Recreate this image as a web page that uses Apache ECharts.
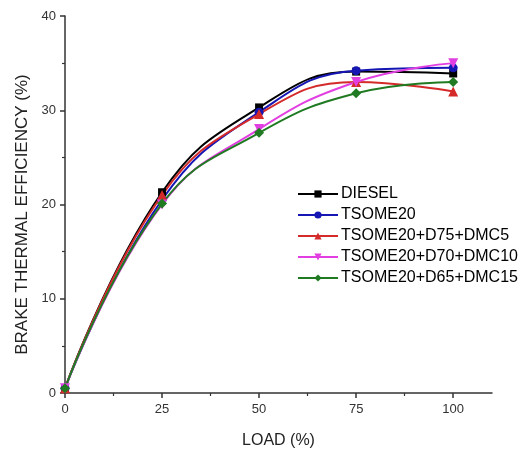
<!DOCTYPE html>
<html>
<head>
<meta charset="utf-8">
<script src="https://cdn.jsdelivr.net/npm/echarts@6/dist/echarts.min.js"></script>
<style>
  html, body { margin: 0; padding: 0; background: #fff; }
  #chart { width: 519px; height: 449px; }
</style>
</head>
<body>
<div id="chart"></div>
<script>
// Engine load (%) on the x axis
const loads = [0, 25, 50, 75, 100];

// Brake thermal efficiency (%) per fuel blend
const diesel      = [0.5, 21.3, 30.3, 34.1, 33.9];
const tsome20     = [0.5, 20.5, 29.8, 34.2, 34.5];
const tsomeDmc5   = [0.5, 21.0, 29.6, 33.0, 32.0];
const tsomeDmc10  = [0.5, 20.0, 28.0, 33.0, 35.0];
const tsomeDmc15  = [0.5, 20.1, 27.6, 31.8, 33.0];

const xMajorTicks = [0, 25, 50, 75, 100];
const xMinorTicks = [12.5, 37.5, 62.5, 87.5];

const seriesDefs = [
  { name: 'DIESEL',             data: diesel,     color: '#000000', symbol: 'rect',     size: 8,  rotate: 0 },
  { name: 'TSOME20',            data: tsome20,    color: '#1616b4', symbol: 'circle',   size: 9,  rotate: 0 },
  { name: 'TSOME20+D75+DMC5',   data: tsomeDmc5,  color: '#d42a2a', symbol: 'triangle', size: 10, rotate: 0 },
  { name: 'TSOME20+D70+DMC10',  data: tsomeDmc10, color: '#e23fe2', symbol: 'triangle', size: 10, rotate: 180 },
  { name: 'TSOME20+D65+DMC15',  data: tsomeDmc15, color: '#1f7a22', symbol: 'diamond',  size: 10, rotate: 0 }
];

const axisColor = '#333333';
const font = 'Liberation Sans, Arial, sans-serif';

const chart = echarts.init(document.getElementById('chart'), null, { renderer: 'canvas' });

chart.setOption({
  animation: false,
  backgroundColor: '#ffffff',
  textStyle: { fontFamily: font },
  grid: { left: 65, right: 27, top: 16, bottom: 56, containLabel: false, outerBoundsMode: 'none' },
  legend: {
    orient: 'vertical',
    left: 292,
    top: 181,
    itemWidth: 40,
    itemHeight: 9,
    itemGap: 5,
    itemStyle: { borderWidth: 0 },
    textStyle: { fontSize: 16, color: '#000', fontFamily: font, padding: [0, 0, 0, -2] },
    data: seriesDefs.map(s => s.name)
  },
  xAxis: [
    {
      type: 'value',
      min: 0, max: 110,
      name: 'LOAD (%)',
      nameLocation: 'middle',
      nameGap: 40,
      nameTextStyle: { fontSize: 16, color: '#222', fontFamily: font },
      axisLine: { show: true, lineStyle: { color: axisColor, width: 1.5 } },
      axisTick: { show: true, customValues: xMajorTicks, length: 5, lineStyle: { color: axisColor, width: 1.5 } },
      axisLabel: { customValues: xMajorTicks, fontSize: 13, color: '#333', margin: 10 },
      splitLine: { show: false }
    },
    {
      type: 'value',
      min: 0, max: 110,
      position: 'bottom',
      axisLine: { show: false },
      axisTick: { show: true, customValues: xMinorTicks, length: 3, lineStyle: { color: axisColor, width: 1.2 } },
      axisLabel: { show: false },
      splitLine: { show: false }
    }
  ],
  yAxis: {
    type: 'value',
    min: 0, max: 40, interval: 10,
    name: 'BRAKE THERMAL EFFICIENCY (%)',
    nameLocation: 'middle',
    nameGap: 31,
    nameTextStyle: { fontSize: 17, color: '#222', fontFamily: font, padding: [0, 20, 0, 0] },
    axisLine: { show: true, lineStyle: { color: axisColor, width: 1.5 } },
    axisTick: { show: true, length: 5, lineStyle: { color: axisColor, width: 1.5 } },
    minorTick: { show: true, splitNumber: 2, length: 3, lineStyle: { color: axisColor, width: 1.2 } },
    axisLabel: { fontSize: 13, color: '#333', margin: 9 },
    splitLine: { show: false }
  },
  series: seriesDefs.map(s => ({
    name: s.name,
    type: 'line',
    xAxisIndex: 0,
    data: loads.map((x, i) => [x, s.data[i]]),
    smooth: 0.45,
    symbol: s.symbol,
    symbolSize: s.size,
    symbolRotate: s.rotate,
    showSymbol: true,
    lineStyle: { color: s.color, width: 2 },
    itemStyle: { color: s.color },
    emphasis: { disabled: true }
  }))
});
</script>
</body>
</html>
